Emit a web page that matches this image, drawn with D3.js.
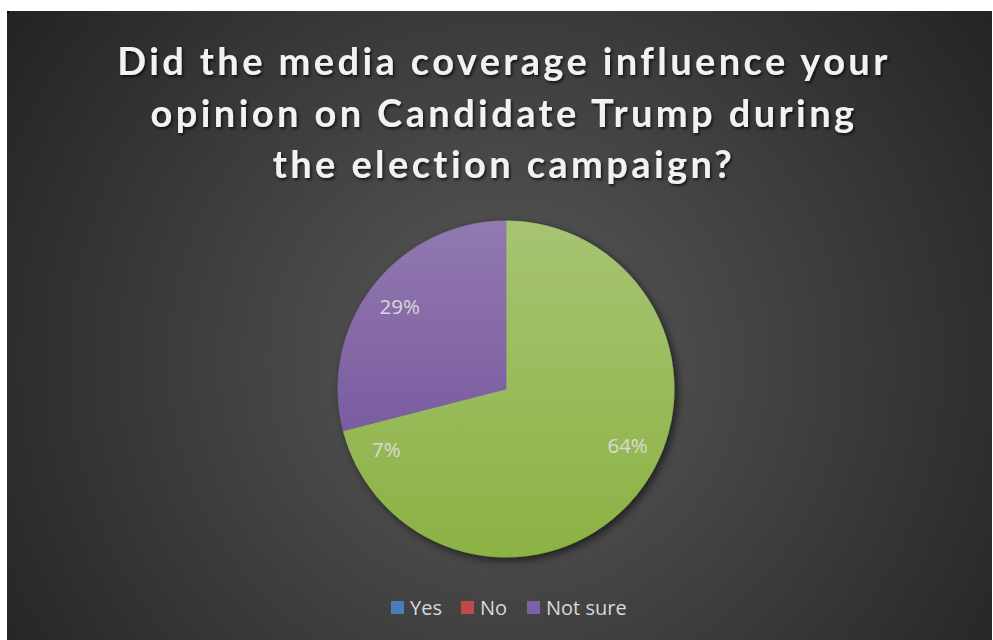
<!DOCTYPE html>
<html><head><meta charset="utf-8">
<script src="https://cdn.jsdelivr.net/npm/d3@7"></script>
<style>html,body{margin:0;padding:0;background:#fff;}svg{display:block;}</style>
</head><body>
<script>
const categories = ["Yes", "No", "Not sure"];
const values = [64, 7, 29];
const labels = ["64%", "7%", "29%"];
const legendColors = ["#4a7ebb", "#be4b48", "#7f60a8"];
const sliceColors = ["green", "green", "purple"];
const titleLines = ["Did the media coverage influence your", "opinion on Candidate Trump during", "the election campaign?"];

const W = 993, H = 640;
const svg = d3.select("body").append("svg").attr("width", W).attr("height", H);
const defs = svg.append("defs");

const bg = defs.append("radialGradient").attr("id", "bg")
  .attr("gradientUnits", "userSpaceOnUse").attr("cx", 506).attr("cy", 360).attr("r", 620);
bg.append("stop").attr("offset", 0).attr("stop-color", "#5a5a5a");
bg.append("stop").attr("offset", 1).attr("stop-color", "#222222");

const cx = 506, cy = 389, R = 168;
const gGreen = defs.append("linearGradient").attr("id", "green").attr("gradientUnits", "userSpaceOnUse")
  .attr("x1", 0).attr("y1", -R).attr("x2", 0).attr("y2", R);
gGreen.append("stop").attr("offset", 0).attr("stop-color", "#a6c472");
gGreen.append("stop").attr("offset", 1).attr("stop-color", "#8cb244");
const gPurple = defs.append("linearGradient").attr("id", "purple").attr("gradientUnits", "userSpaceOnUse")
  .attr("x1", 0).attr("y1", -R).attr("x2", 0).attr("y2", R);
gPurple.append("stop").attr("offset", 0).attr("stop-color", "#9279b0");
gPurple.append("stop").attr("offset", 1).attr("stop-color", "#6c4b98");

const sh = defs.append("filter").attr("id", "shadow").attr("x", "-20%").attr("y", "-20%").attr("width", "140%").attr("height", "140%");
sh.append("feDropShadow").attr("dx", 3).attr("dy", 3).attr("stdDeviation", 4).attr("flood-color", "#000").attr("flood-opacity", 0.6);
const tsh = defs.append("filter").attr("id", "tshadow").attr("x", "-5%").attr("y", "-20%").attr("width", "110%").attr("height", "140%");
tsh.append("feDropShadow").attr("dx", 1.5).attr("dy", 2).attr("stdDeviation", 1.5).attr("flood-color", "#000").attr("flood-opacity", 0.7);

svg.append("rect").attr("x", 7).attr("y", 11).attr("width", 985).attr("height", H - 11).attr("fill", "url(#bg)");

// title
svg.append("g").attr("filter", "url(#tshadow)").selectAll("text").data(titleLines).join("text")
  .attr("x", 504).attr("y", (d, i) => 75 + i * 51.5)
  .attr("text-anchor", "middle")
  .attr("font-family", "Lato, 'Open Sans', sans-serif").attr("font-weight", 700)
  .attr("font-size", 38).attr("letter-spacing", 3.4).attr("fill", "#f2f2f2")
  .text(d => d);

// pie
const pie = d3.pie().sort(null).value(d => d)(values);
const arc = d3.arc().innerRadius(0).outerRadius(R);
const labelArc = d3.arc().innerRadius(R * 0.8).outerRadius(R * 0.8);
const pg = svg.append("g").attr("transform", `translate(${cx},${cy})`);
pg.append("g").attr("filter", "url(#shadow)").selectAll("path").data(pie).join("path")
  .attr("d", arc)
  .attr("fill", (d, i) => `url(#${sliceColors[i]})`)
  .attr("stroke", (d, i) => `url(#${sliceColors[i]})`)
  .attr("stroke-width", 0.8)
  .attr("stroke-linejoin", "round");

pg.selectAll("text.lbl").data(pie).join("text").attr("class", "lbl")
  .attr("transform", d => `translate(${labelArc.centroid(d)})`)
  .attr("text-anchor", "middle").attr("dy", "0.35em")
  .attr("font-family", "'Open Sans', sans-serif").attr("font-size", 20.5)
  .attr("fill", "#d9d9d9")
  .text((d, i) => labels[i]);

// legend
const legX = [391, 461, 527];
const lg = svg.append("g");
categories.forEach((c, i) => {
  lg.append("rect").attr("x", legX[i]).attr("y", 601).attr("width", 13).attr("height", 13).attr("fill", legendColors[i]);
  lg.append("text").attr("x", legX[i] + 19).attr("y", 615)
    .attr("font-family", "'Open Sans', sans-serif").attr("font-size", 20).attr("fill", "#d9d9d9")
    .text(c);
});
svg.append("rect").attr("x", 7).attr("y", 11).attr("width", 2).attr("height", 2).attr("fill", "#000");
</script>
</body></html>
